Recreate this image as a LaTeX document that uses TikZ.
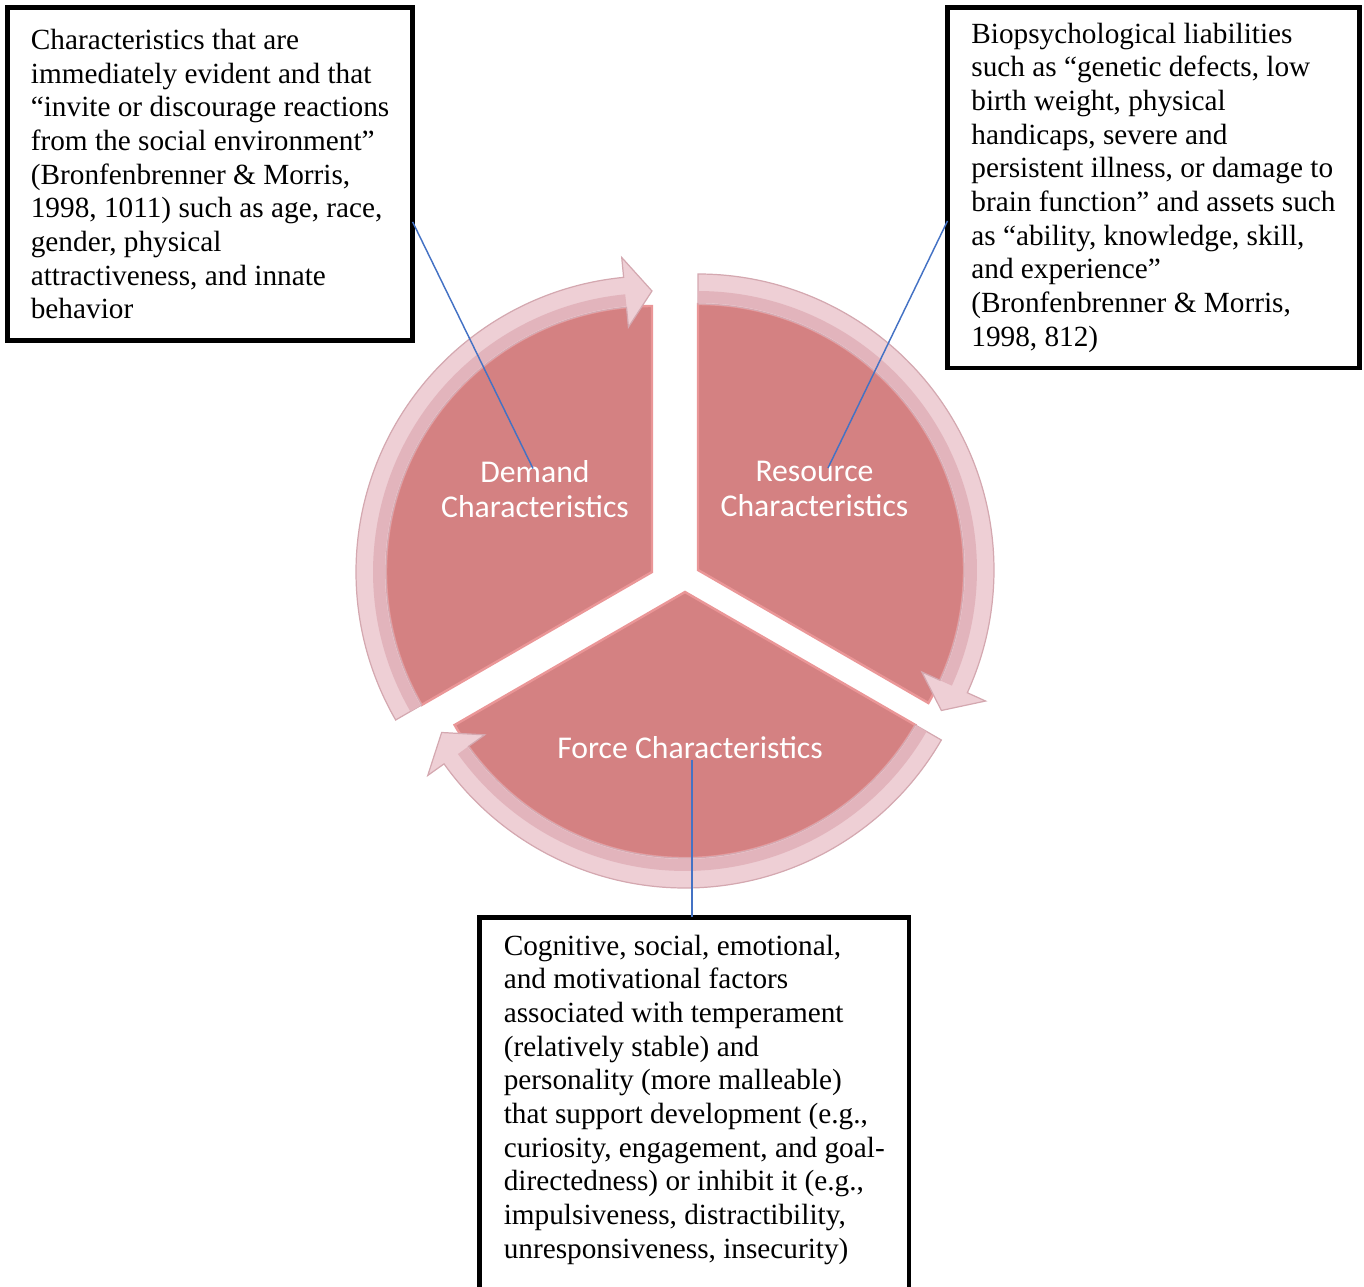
\documentclass[tikz,border=0pt]{standalone}
\usepackage{fontspec}
\setmainfont{Liberation Serif}
\newfontfamily\smartfont{Carlito}
\usetikzlibrary{positioning,calc}
\definecolor{secfill}{RGB}{212,129,130}
\definecolor{secedge}{RGB}{234,150,151}
\definecolor{bandfill}{RGB}{238,207,213}
\definecolor{bandedge}{RGB}{212,168,176}
\definecolor{bandinner}{RGB}{226,180,188}
\definecolor{lnkblue}{RGB}{68,114,196}

\begin{document}
\begin{tikzpicture}[
  x=0.41pt, y=0.41pt,
  txtbox/.style={rectangle, draw=black, line width=2pt, fill=white,
                 align=left, anchor=north west, outer sep=0pt, inner sep=0pt,
                 font=\fontsize{12}{13.8}\selectfont},
  seclbl/.style={text=white, align=center, inner sep=0pt,
                 font=\smartfont\fontsize{13}{14.4}\selectfont},
  sector/.style={fill=secfill, draw=secedge, line width=1pt},
  band/.style={fill=bandfill, draw=bandedge, line width=0.5pt},
  bandin/.style={draw=bandinner, line width=4.9pt},
  lnk/.style={draw=lnkblue, line width=0.6pt}
]
\useasboundingbox (0,0) rectangle (1364,-1287);
\clip (0,0) rectangle (1364,-1287);

\coordinate (dc) at (652,-572);
\coordinate (rc) at (698,-570);
\coordinate (fc) at (685,-592);

\begin{scope}[shift={(dc)}]
\path[sector] (0,0) -- (90:266) arc[start angle=90, end angle=210, radius=266] -- cycle;
\path[band] (210:296) arc[start angle=210, end angle=95.5, radius=296] -- (95.5:316) -- (90:281)
  -- (95.5:246) -- (95.5:266) arc[start angle=95.5, end angle=210, radius=266] -- cycle;
\draw[bandin] (210:273) arc[start angle=210, end angle=95.5, radius=273];
\end{scope}

\begin{scope}[shift={(rc)}]
\path[sector] (0,0) -- (90:266) arc[start angle=90, end angle=-30, radius=266] -- cycle;
\path[band] (90:296) arc[start angle=90, end angle=-24.5, radius=296] -- (-24.5:316) -- (-30:281)
  -- (-24.5:246) -- (-24.5:266) arc[start angle=-24.5, end angle=90, radius=266] -- cycle;
\draw[bandin] (90:273) arc[start angle=90, end angle=-24.5, radius=273];
\end{scope}

\begin{scope}[shift={(fc)}]
\path[sector] (0,0) -- (-30:266) arc[start angle=-30, end angle=-150, radius=266] -- cycle;
\path[band] (-30:296) arc[start angle=-30, end angle=-144.5, radius=296] -- (-144.5:316) -- (-150:281)
  -- (-144.5:246) -- (-144.5:266) arc[start angle=-144.5, end angle=-30, radius=266] -- cycle;
\draw[bandin] (-30:273) arc[start angle=-30, end angle=-144.5, radius=273];
\end{scope}

\node[seclbl] (demlbl) at (535,-489.5) {Demand\\Characteristics};
\node[seclbl] (reslbl) at (814.5,-489) {Resource\\Characteristics};
\node[seclbl] (forlbl) at (690,-748) {Force Characteristics};

\node[txtbox, minimum width=166.1pt, minimum height=136.7pt] (dembox) at (7.5,-7.5)
  {Characteristics that are\\
   immediately evident and that\\
   “invite or discourage reactions\\
   from the social environment”\\
   (Bronfenbrenner \& Morris,\\
   1998, 1011) such as age, race,\\
   gender, physical\\
   attractiveness, and innate\\
   behavior};
\node[txtbox, minimum width=168.9pt, minimum height=147.8pt] (resbox) at (947.5,-7.5)
  {Biopsychological liabilities\\
   such as “genetic defects, low\\
   birth weight, physical\\
   handicaps, severe and\\
   persistent illness, or damage to\\
   brain function” and assets such\\
   as “ability, knowledge, skill,\\
   and experience”\\
   (Bronfenbrenner \& Morris,\\
   1998, 812)};
\node[txtbox, minimum width=176.1pt, minimum height=153.8pt] (forbox) at (479.5,-917.5)
  {Cognitive, social, emotional,\\
   and motivational factors\\
   associated with temperament\\
   (relatively stable) and\\
   personality (more malleable)\\
   that support development (e.g.,\\
   curiosity, engagement, and goal-\\
   directedness) or inhibit it (e.g.,\\
   impulsiveness, distractibility,\\
   unresponsiveness, insecurity)\rule[-7pt]{0pt}{1pt}};

\draw[lnk] ($(dembox.north east)!0.643!(dembox.south east)$) -- ([shift={(-2,21)}]demlbl.center);
\draw[lnk] ($(resbox.north west)!0.592!(resbox.south west)$) -- ([shift={(13.5,21)}]reslbl.center);
\draw[lnk] ([shift={(2,0)}]forlbl.south) -- ([shift={(2,0)}]forlbl.south |- forbox.north);
\end{tikzpicture}
\end{document}
